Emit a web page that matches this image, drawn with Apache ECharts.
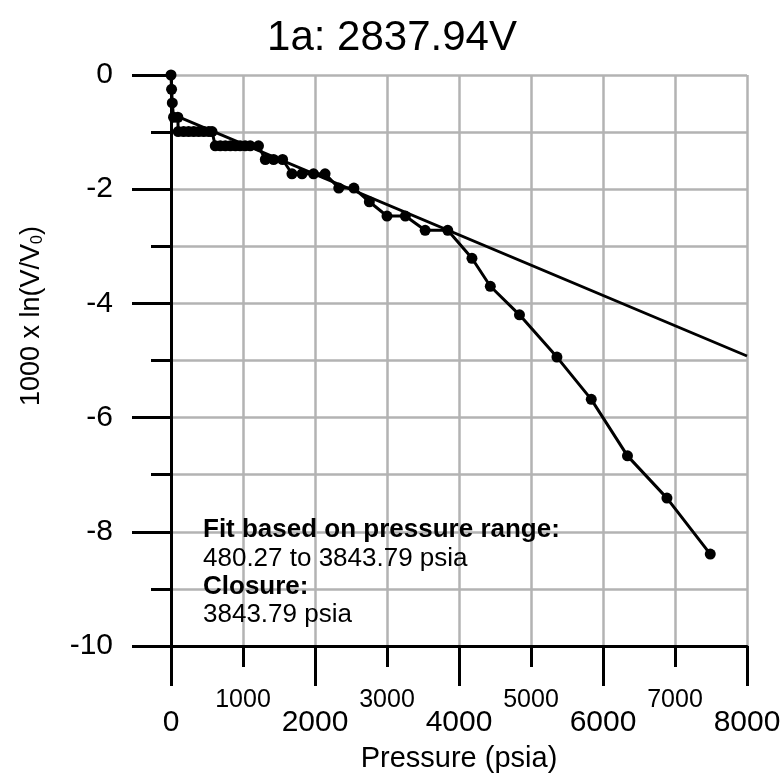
<!DOCTYPE html>
<html><head><meta charset="utf-8">
<script src="https://cdn.jsdelivr.net/npm/echarts@6/dist/echarts.min.js"></script>
<style>html,body{margin:0;padding:0;background:#fff}#c{width:784px;height:778px}</style>
</head><body><div id="c"></div>
<script>
// Data
var pressure = [0, 8, 18, 35, 95,
  100, 175, 245, 315, 385, 455, 525, 570,
  615, 685, 755, 825, 895, 960, 1030, 1100, 1215,
  1310, 1425, 1550,
  1680, 1820, 1980, 2140,
  2330, 2540, 2755, 3000, 3255, 3530, 3844,
  4180, 4435, 4840, 5360, 5837, 6340, 6888, 7490];
var lnRatio = [0, -0.25, -0.49, -0.74, -0.74,
  -0.99, -0.99, -0.99, -0.99, -0.99, -0.99, -0.99, -0.99,
  -1.24, -1.24, -1.24, -1.24, -1.24, -1.24, -1.24, -1.24, -1.24,
  -1.48, -1.48, -1.48,
  -1.73, -1.73, -1.73, -1.73,
  -1.98, -1.98, -2.22, -2.47, -2.47, -2.72, -2.72,
  -3.21, -3.70, -4.20, -4.94, -5.68, -6.67, -7.41, -8.39];
var fitPressure = [80, 8000];
var fitLn = [-0.72, -4.92];
var xMajorLabels = [0, 2000, 4000, 6000, 8000];
var xMinorLabels = [1000, 3000, 5000, 7000];
var yLabels = [0, -2, -4, -6, -8, -10];
var noteLines = ['Fit based on pressure range:', '480.27 to 3843.79 psia', 'Closure:', '3843.79 psia'];
var noteBold = [true, false, true, false];

var FONT = 'Liberation Sans, Arial, sans-serif';
var pts = pressure.map(function (p, i) { return [p, lnRatio[i]]; });
var fit = fitPressure.map(function (p, i) { return [p, fitLn[i]]; });

var notes = noteLines.map(function (t, i) {
  return { type: 'text', x: 203, y: 530 + i * 28.4, z: 10,
    style: { text: t, fontFamily: FONT, fontSize: 26, fontWeight: noteBold[i] ? 'bold' : 'normal',
      fill: '#000', align: 'left', verticalAlign: 'middle' } };
});

var GRID = { color: '#b3b3b3', width: 2.5 };

var chart = echarts.init(document.getElementById('c'));
chart.setOption({
  animation: false,
  backgroundColor: '#fff',
  title: {
    text: '1a: 2837.94V', left: 'center', top: 12,
    textStyle: { fontFamily: FONT, fontSize: 42, fontWeight: 'normal', color: '#000' }
  },
  grid: { left: 171, right: 37, top: 75, bottom: 128, containLabel: false },
  xAxis: [{
    type: 'value', min: 0, max: 8000, interval: 2000,
    axisLine: { show: true, onZero: false, lineStyle: { color: '#000', width: 3 } },
    axisTick: { show: true, length: 40, lineStyle: { color: '#000', width: 3 } },
    minorTick: { show: true, splitNumber: 2, length: 21, lineStyle: { color: '#000', width: 3 } },
    splitLine: { show: true, lineStyle: GRID },
    minorSplitLine: { show: true, lineStyle: GRID },
    axisLabel: {
      margin: 62, fontFamily: FONT, fontSize: 30, color: '#000',
      formatter: function (v) { return xMajorLabels.indexOf(v) >= 0 ? String(v) : ''; }
    },
    name: 'Pressure (psia)', nameLocation: 'middle', nameGap: 98,
    nameTextStyle: { fontFamily: FONT, fontSize: 29, color: '#000' }
  }, {
    type: 'value', min: 0, max: 8000, interval: 1000, position: 'bottom',
    axisLine: { show: false }, axisTick: { show: false }, splitLine: { show: false },
    axisLabel: {
      margin: 42, fontFamily: FONT, fontSize: 25, color: '#000',
      formatter: function (v) { return xMinorLabels.indexOf(v) >= 0 ? String(v) : ''; }
    }
  }],
  yAxis: {
    type: 'value', min: -10, max: 0, interval: 2,
    axisLine: { show: true, onZero: false, lineStyle: { color: '#000', width: 3 } },
    axisTick: { show: true, length: 39, lineStyle: { color: '#000', width: 3 } },
    minorTick: { show: true, splitNumber: 2, length: 20, lineStyle: { color: '#000', width: 3 } },
    splitLine: { show: true, lineStyle: GRID },
    minorSplitLine: { show: true, lineStyle: GRID },
    axisLabel: {
      margin: 58, fontFamily: FONT, fontSize: 30, color: '#000',
      formatter: function (v) { return yLabels.indexOf(v) >= 0 ? String(v) : ''; }
    }
  },
  graphic: [
    { type: 'text', x: 32, y: 316, rotation: Math.PI / 2,
      style: { text: '{a|1000 x ln(V/V}{s|0}{a|)}', align: 'center', verticalAlign: 'middle',
        rich: { a: { fontFamily: FONT, fontSize: 27, fill: '#000' },
                s: { fontFamily: FONT, fontSize: 16, fill: '#000', padding: [12, 0, 0, 0] } } } }
  ].concat(notes),
  series: [{
    type: 'line', data: fit, xAxisIndex: 0, showSymbol: false, symbol: 'none',
    lineStyle: { color: '#000', width: 2.8 }, z: 3
  }, {
    type: 'line', data: pts, xAxisIndex: 0, symbol: 'circle', symbolSize: 11,
    itemStyle: { color: '#000' }, lineStyle: { color: '#000', width: 3 }, z: 4
  }]
});
</script></body></html>
